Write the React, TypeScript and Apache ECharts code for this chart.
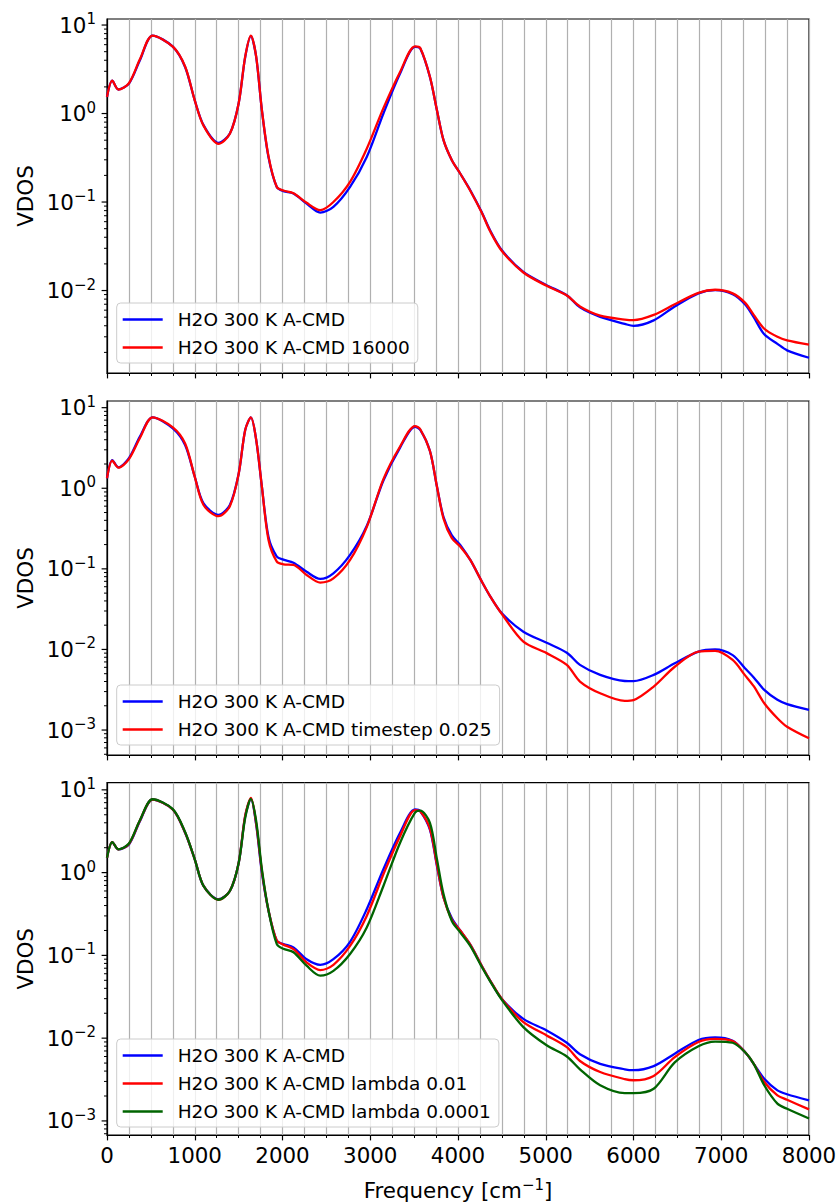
import React, { useEffect, useRef } from "react";
import * as echarts from "echarts";

// Frequency grid (cm^-1)
const freq = [0, 60, 130, 250, 375, 520, 750, 890, 1000, 1100, 1270, 1400, 1500, 1575, 1640, 1700, 1765, 1840, 1935, 2010, 2125, 2275, 2430, 2580, 2770, 2960, 3150, 3340, 3510, 3570, 3680, 3760, 3835, 3930, 4025, 4140, 4270, 4365, 4500, 4745, 5010, 5240, 5390, 5620, 5900, 6000, 6230, 6470, 6740, 6930, 7130, 7270, 7370, 7490, 7640, 7750, 8000];

// Panel 1
const p1Base = [1.54, 2.35, 1.87, 2.18, 4.0, 7.6, 5.7, 3.36, 1.41, 0.74, 0.466, 0.594, 1.3, 4.36, 7.5, 4.36, 1.09, 0.323, 0.148, 0.133, 0.125, 0.096, 0.076, 0.088, 0.148, 0.323, 1.0, 2.83, 5.66, 5.42, 2.59, 1.09, 0.5, 0.297, 0.21, 0.136, 0.077, 0.048, 0.0285, 0.0162, 0.0115, 0.00885, 0.00645, 0.00504, 0.0042, 0.00398, 0.0046, 0.0066, 0.0093, 0.0101, 0.0091, 0.007, 0.005, 0.0032, 0.0025, 0.00211, 0.00174];
const p1Alt = [1.54, 2.35, 1.87, 2.2, 4.1, 7.6, 5.7, 3.4, 1.41, 0.73, 0.455, 0.59, 1.3, 4.4, 7.6, 4.4, 1.1, 0.33, 0.148, 0.135, 0.126, 0.098, 0.081, 0.1, 0.169, 0.4, 1.15, 2.95, 5.75, 5.5, 2.6, 1.09, 0.5, 0.297, 0.21, 0.134, 0.076, 0.047, 0.028, 0.016, 0.0113, 0.0088, 0.0066, 0.0052, 0.0047, 0.00462, 0.0053, 0.007, 0.0094, 0.0102, 0.0093, 0.0073, 0.0053, 0.0037, 0.003, 0.00274, 0.00245];

// Panel 2
const p2Base = [1.33, 2.24, 1.82, 2.36, 4.37, 7.6, 5.55, 3.44, 1.39, 0.65, 0.467, 0.62, 1.5, 5.29, 7.6, 4.0, 1.05, 0.25, 0.142, 0.13, 0.119, 0.092, 0.075, 0.088, 0.149, 0.34, 1.25, 3.2, 5.8, 5.29, 2.9, 1.05, 0.44, 0.26, 0.198, 0.129, 0.07, 0.046, 0.028, 0.0166, 0.0121, 0.0091, 0.00643, 0.00483, 0.00406, 0.00404, 0.00483, 0.00674, 0.0094, 0.01, 0.0085, 0.00585, 0.0045, 0.00315, 0.00237, 0.0021, 0.00178];
const p2Alt = [1.33, 2.2, 1.8, 2.3, 4.2, 7.6, 5.7, 3.6, 1.39, 0.62, 0.45, 0.6, 1.5, 5.29, 7.6, 4.0, 1.05, 0.23, 0.123, 0.114, 0.112, 0.084, 0.0675, 0.076, 0.129, 0.33, 1.3, 3.3, 5.9, 5.4, 2.9, 1.05, 0.42, 0.24, 0.19, 0.129, 0.07, 0.046, 0.0275, 0.0125, 0.009, 0.00643, 0.004, 0.00286, 0.0023, 0.00235, 0.00346, 0.0061, 0.0094, 0.0096, 0.0074, 0.0048, 0.0035, 0.00215, 0.0014, 0.0011, 0.00079];

// Panel 3
const p3Base = [1.51, 2.34, 1.91, 2.19, 4.19, 7.64, 5.79, 3.03, 1.45, 0.69, 0.477, 0.6, 1.3, 4.81, 7.8, 3.8, 1.0, 0.35, 0.15, 0.137, 0.125, 0.09, 0.077, 0.09, 0.146, 0.361, 1.1, 3.03, 5.79, 5.52, 3.3, 1.2, 0.5, 0.28, 0.2, 0.135, 0.075, 0.05, 0.0298, 0.0171, 0.0124, 0.0088, 0.0064, 0.0049, 0.0042, 0.0041, 0.0046, 0.0065, 0.0095, 0.0102, 0.0093, 0.0068, 0.0049, 0.00323, 0.00234, 0.0021, 0.00177];
const p3Lam1 = [1.51, 2.34, 1.91, 2.22, 4.25, 7.64, 5.79, 3.05, 1.45, 0.69, 0.47, 0.6, 1.3, 4.9, 8.0, 3.9, 1.05, 0.35, 0.15, 0.135, 0.119, 0.082, 0.0665, 0.077, 0.13, 0.3, 0.955, 2.76, 5.7, 5.52, 3.4, 1.25, 0.5, 0.27, 0.2, 0.135, 0.075, 0.05, 0.0298, 0.0156, 0.0108, 0.0078, 0.0053, 0.0039, 0.0032, 0.0031, 0.0035, 0.0059, 0.009, 0.0098, 0.0092, 0.0068, 0.0049, 0.00295, 0.00204, 0.0018, 0.00138];
const p3Lam2 = [1.51, 2.34, 1.91, 2.25, 4.3, 7.7, 5.85, 3.1, 1.45, 0.69, 0.47, 0.6, 1.3, 4.6, 7.8, 4.2, 1.1, 0.35, 0.137, 0.12, 0.109, 0.075, 0.0569, 0.065, 0.104, 0.217, 0.69, 2.3, 5.3, 5.6, 4.0, 1.45, 0.55, 0.26, 0.19, 0.13, 0.073, 0.049, 0.029, 0.0136, 0.0082, 0.006, 0.0042, 0.0027, 0.00217, 0.00217, 0.00245, 0.0051, 0.008, 0.0091, 0.0088, 0.0068, 0.0049, 0.0027, 0.00162, 0.0014, 0.00107];

const nameBase = "H2O 300 K A-CMD";
const panelNames = [
  [nameBase, "H2O 300 K A-CMD 16000"],
  [nameBase, "H2O 300 K A-CMD timestep 0.025"],
  [nameBase, "H2O 300 K A-CMD lambda 0.01", "H2O 300 K A-CMD lambda 0.0001"],
];
const panelData = [[p1Base, p1Alt], [p2Base, p2Alt], [p3Base, p3Lam1, p3Lam2]];
const colors = ["#0000ff", "#ff0000", "#006400"];

// Y-axis ranges per panel (log)
const yMins = [0.00117, 0.00049, 0.000676];
const yMaxs = [11.7, 12.1, 12.2];

const xTicks = [0, 1000, 2000, 3000, 4000, 5000, 6000, 7000, 8000];
const decades = [-4, -3, -2, -1, 0, 1];

const FONT = "DejaVu Sans";
const gridTops = [19, 401, 782.7];
const gridH = 354;
const legendTops = [303, 685, 1039];

function supText(e: number) {
  return e < 0 ? "\u2212" + Math.abs(e) : String(e);
}

export default function App() {
  const ref = useRef<HTMLDivElement>(null);
  useEffect(() => {
    if (!ref.current) return;
    const chart = echarts.init(ref.current, undefined, { renderer: "svg" });

    const grids: any[] = [];
    const xAxes: any[] = [];
    const yAxes: any[] = [];
    const series: any[] = [];
    const legends: any[] = [];

    for (let i = 0; i < 3; i++) {
      grids.push({
        left: 107,
        top: gridTops[i],
        width: 702,
        height: gridH,
        show: true,
        borderColor: "#000",
        borderWidth: 1.2,
        backgroundColor: "#fff",
      });
      const isLast = i === 2;
      xAxes.push({
        type: "value",
        gridIndex: i,
        min: xTicks[0],
        max: xTicks[xTicks.length - 1],
        interval: 1000,
        axisLine: { show: true, onZero: false, lineStyle: { color: "#000", width: 1.2 } },
        axisTick: { show: true, length: 5.4, lineStyle: { color: "#000", width: 1.2 } },
        minorTick: { show: true, splitNumber: 4, length: 3, lineStyle: { color: "#000", width: 1 } },
        splitLine: { show: true, lineStyle: { color: "#b0b0b0", width: 1.2 } },
        minorSplitLine: { show: true, lineStyle: { color: "#b0b0b0", width: 1.2 } },
        axisLabel: {
          show: isLast,
          fontFamily: FONT,
          fontSize: 21.4,
          color: "#000",
          margin: 10,
          formatter: (v: number) => String(v),
        },
        name: isLast ? "Frequency [cm{s|\u22121}]" : "",
        nameLocation: "middle",
        nameGap: 42,
        nameTextStyle: {
          fontFamily: FONT,
          fontSize: 21.4,
          color: "#000",
          rich: {
            s: { fontFamily: FONT, fontSize: 15, color: "#000", padding: [0, 0, 12, 0] },
          },
        },
      });
      yAxes.push({
        type: "log",
        logBase: 10,
        gridIndex: i,
        min: yMins[i],
        max: yMaxs[i],
        axisLine: { show: true, onZero: false, lineStyle: { color: "#000", width: 1.2 } },
        axisTick: { show: false },
        splitLine: { show: false },
        axisLabel: {
          show: true,
          margin: 11,
          fontFamily: FONT,
          fontSize: 21.4,
          color: "#000",
          formatter: (v: number) => {
            const e = Math.log10(v);
            if (Math.abs(e - Math.round(e)) > 1e-6) return "";
            return "{b|10}{s|" + supText(Math.round(e)) + "}";
          },
          rich: {
            b: { fontFamily: FONT, fontSize: 21.4, color: "#000" },
            s: { fontFamily: FONT, fontSize: 15, color: "#000", padding: [0, 0, 12, 0] },
          },
        },
        name: "VDOS",
        nameLocation: "middle",
        nameRotate: 90,
        nameGap: 70,
        nameTextStyle: { fontFamily: FONT, fontSize: 21.4, color: "#000" },
      });

      panelData[i].forEach((vals, k) => {
        series.push({
          type: "line",
          name: panelNames[i][k],
          xAxisIndex: i,
          yAxisIndex: i,
          data: freq.map((f, j) => [f, vals[j]]),
          symbol: "none",
          smooth: 0.3,
          lineStyle: { color: colors[k], width: 2.3 },
          itemStyle: { color: colors[k] },
          z: 3 + k,
        });
      });

      // y-axis major & minor ticks (log decades)
      const tickData: number[][] = [];
      decades.forEach((d) => {
        for (let m = 1; m <= 9; m++) {
          const v = m * Math.pow(10, d);
          if (v >= yMins[i] && v <= yMaxs[i]) tickData.push([0, v, m === 1 ? 1 : 0]);
        }
      });
      series.push({
        type: "custom",
        xAxisIndex: i,
        yAxisIndex: i,
        clip: false,
        silent: true,
        z: 10,
        data: tickData,
        renderItem: (params: any, api: any) => {
          const p = api.coord([0, api.value(1)]);
          const len = api.value(2) === 1 ? 5.4 : 3;
          return {
            type: "line",
            shape: { x1: p[0] - len, y1: p[1], x2: p[0], y2: p[1] },
            style: { stroke: "#000", lineWidth: api.value(2) === 1 ? 1.2 : 1 },
          };
        },
      });

      legends.push({
        data: panelNames[i].map((n, k) => ({ name: n, itemStyle: { color: colors[k] } })),
        left: 116.7,
        top: legendTops[i],
        orient: "vertical",
        icon: "rect",
        itemWidth: 40,
        itemHeight: 2.6,
        itemGap: 9,
        padding: [7, 8, 6, 6],
        borderColor: "#cccccc",
        borderWidth: 1,
        borderRadius: 4,
        backgroundColor: "rgba(255,255,255,0.8)",
        selectedMode: false,
        textStyle: { fontFamily: FONT, fontSize: 18.5, color: "#000", padding: [0, 0, 0, 10] },
      });
    }

    chart.setOption({
      animation: false,
      backgroundColor: "#fff",
      grid: grids,
      xAxis: xAxes,
      yAxis: yAxes,
      legend: legends,
      series,
    });
    return () => chart.dispose();
  }, []);

  return (
    <div
      ref={ref}
      style={{ position: "absolute", left: 0, top: 0, width: 840, height: 1202 }}
    />
  );
}
